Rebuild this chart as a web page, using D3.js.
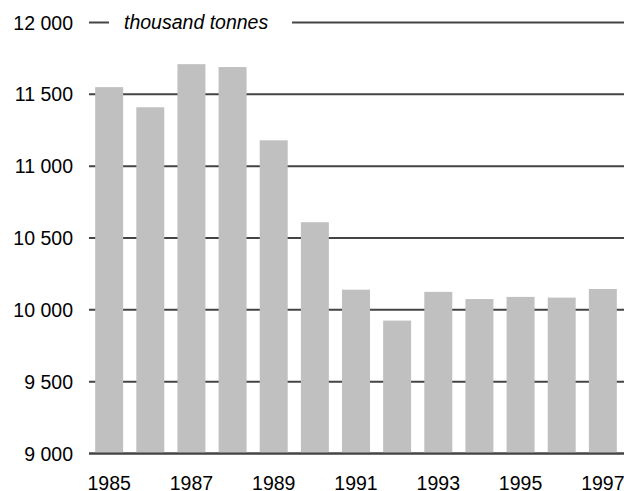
<!DOCTYPE html>
<html><head><meta charset="utf-8">
<script src="https://cdn.jsdelivr.net/npm/d3@7"></script>
<style>html,body{margin:0;padding:0;background:#fff;}svg{display:block;}</style>
</head><body>
<script>
const years = ["1985","1986","1987","1988","1989","1990","1991","1992","1993","1994","1995","1996","1997"];
const values = [11550,11410,11710,11690,11180,10610,10140,9925,10125,10075,10090,10085,10145];
const yTicks = [9000,9500,10000,10500,11000,11500,12000];
const xLabels = ["1985","1987","1989","1991","1993","1995","1997"];
const unitLabel = "thousand tonnes";

const W = 624, H = 491;
const svg = d3.select("body").append("svg").attr("width", W).attr("height", H);
const x = d3.scaleBand().domain(years).range([89, 623]).paddingInner(0.32).paddingOuter(0.15);
const y = d3.scaleLinear().domain([9000, 12000]).range([453.5, 22.5]);
const font = "'Liberation Sans', Arial, sans-serif";

// gridlines
const grid = svg.append("g");
yTicks.forEach(t => {
  if (t === 12000) {
    grid.append("line").attr("x1", 89).attr("x2", 109).attr("y1", y(t)).attr("y2", y(t))
      .attr("stroke", "#444").attr("stroke-width", 2);
    grid.append("line").attr("x1", 292).attr("x2", W).attr("y1", y(t)).attr("y2", y(t))
      .attr("stroke", "#444").attr("stroke-width", 2);
  } else {
    grid.append("line").attr("x1", 89).attr("x2", W).attr("y1", y(t)).attr("y2", y(t))
      .attr("stroke", "#444").attr("stroke-width", 2);
  }
});

// y axis labels
const yAxis = d3.axisLeft(y).tickValues(yTicks).tickSize(0).tickPadding(0)
  .tickFormat(d => d3.format(",")(d).replace(",", " "));
const gy = svg.append("g").attr("transform", "translate(73,0)").call(yAxis);
gy.select(".domain").remove();
gy.selectAll("text").attr("font-family", font).attr("font-size", "19.5px").attr("fill", "#000").attr("dy", "0.34em");

// unit label
svg.append("text").attr("x", 124).attr("y", y(12000)).attr("dy", "0.34em")
  .attr("font-family", font).attr("font-size", "19.5px").attr("font-style", "italic").attr("fill", "#000")
  .text(unitLabel);

// bars
svg.append("g").selectAll("rect").data(values).join("rect")
  .attr("x", (d, i) => x(years[i])).attr("width", x.bandwidth())
  .attr("y", d => y(d)).attr("height", d => y(9000) - y(d))
  .attr("fill", "#c0c0c0");

// x axis
const xAxis = d3.axisBottom(x).tickValues(xLabels).tickSize(0).tickPadding(0);
const gx = svg.append("g").attr("transform", `translate(0,${y(9000)})`).call(xAxis);
gx.select(".domain").remove();
gx.selectAll("text").attr("font-family", font).attr("font-size", "19.5px").attr("fill", "#000")
  .attr("dy", null).attr("y", 36.5);

// baseline on top
svg.append("line").attr("x1", 89).attr("x2", W).attr("y1", y(9000)).attr("y2", y(9000))
  .attr("stroke", "#444").attr("stroke-width", 2);
</script>
</body></html>
